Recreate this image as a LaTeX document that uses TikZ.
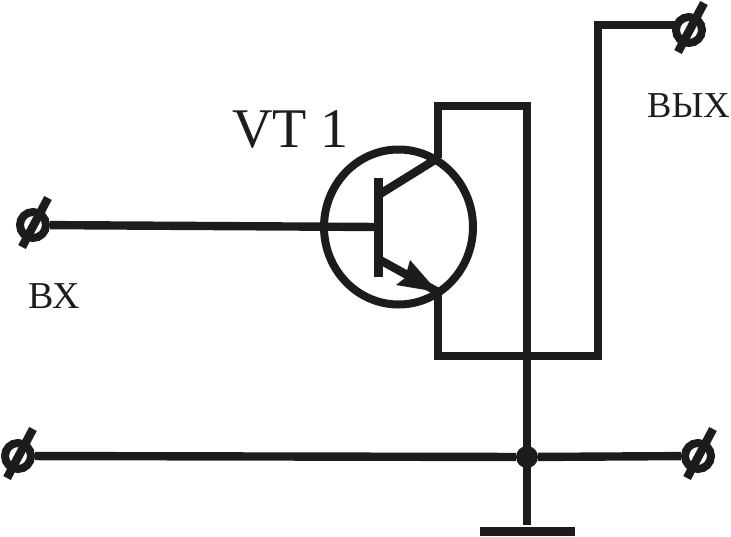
\documentclass[tikz,border=0pt]{standalone}
\usepackage{fontspec}
\setmainfont{Liberation Serif}
\usetikzlibrary{shapes.geometric,arrows.meta}
\definecolor{ink}{HTML}{1E1C1B}
\tikzset{
  wire/.style={draw=ink,line width=8.4pt,line cap=butt,line join=miter},
  terminal/.style={circle,draw=ink,line width=8pt,minimum size=26pt,inner sep=0pt},
  jointdot/.style={circle,fill=ink,minimum size=22pt,inner sep=0pt},
  label/.style={text=ink,anchor=base west,inner sep=0pt,font=\fontsize{38}{38}\selectfont},
}
\newcommand{\termslash}[1]{\draw[wire,line width=8.5pt] ([shift={(15,-27)}]#1.center) -- ([shift={(-11,22)}]#1.center);}
\begin{document}
\begin{tikzpicture}[x=1pt,y=-1pt]
\useasboundingbox (0,0) rectangle (731,536);
% transistor
\node[ellipse,draw=ink,line width=8pt,minimum width=149pt,minimum height=155pt,inner sep=0pt] (vt) at (398.5,227) {};
\coordinate (bt) at (378,178);
\coordinate (bb) at (378,277);
\coordinate (bm) at (378,227);
\coordinate (cin) at (380,194);
\coordinate (cout) at (438,158);
\coordinate (ein) at (380,260);
\coordinate (eout) at (438,292);
\draw[wire,line width=9pt] (bt) -- (bb);
\draw[wire] (cin) -- (cout);
\draw[wire] (ein) -- (eout);
\fill[ink] (eout) -- (396,285) -- (405,278) -- (410,260) -- cycle;
% terminals
\node[terminal] (in) at (33,225) {};
\node[terminal] (out) at (689,30) {};
\node[terminal] (gl) at (18,456) {};
\node[terminal] (gr) at (698,456) {};
\termslash{in}
\termslash{out}
\termslash{gl}
\termslash{gr}
% wiring
\coordinate (rtl) at (438,106);
\coordinate (rtr) at (527,106);
\coordinate (rbl) at (438,356);
\coordinate (rbm) at (527,356);
\coordinate (rbr) at (598,356);
\coordinate (rup) at (598,25);
\coordinate (outw) at (675,25);
\coordinate (gndt) at (527,525);
\node[jointdot] (j) at (527,457) {};
\draw[wire] (in) -- (bm);
\draw[wire] (cout) -- (rtl) -- (rtr) -- (gndt);
\draw[wire] (eout) -- (rbl) -- (rbr) -- (rup) -- (outw);
\draw[wire] (gl) -- (j) -- (gr);
\coordinate (gndl) at (480,531);
\coordinate (gndr) at (575,531);
\draw[wire,line width=9pt] (gndl) -- (gndr);
% labels
\node[label,font=\fontsize{56}{56}\selectfont] (name) at (232,147) {VT 1};
\node[label] (vx) at (28,308) {ВХ};
\node[label,font=\fontsize{36.5}{36.5}\selectfont] (vyx) at (647,117) {ВЫХ};
\end{tikzpicture}
\end{document}
